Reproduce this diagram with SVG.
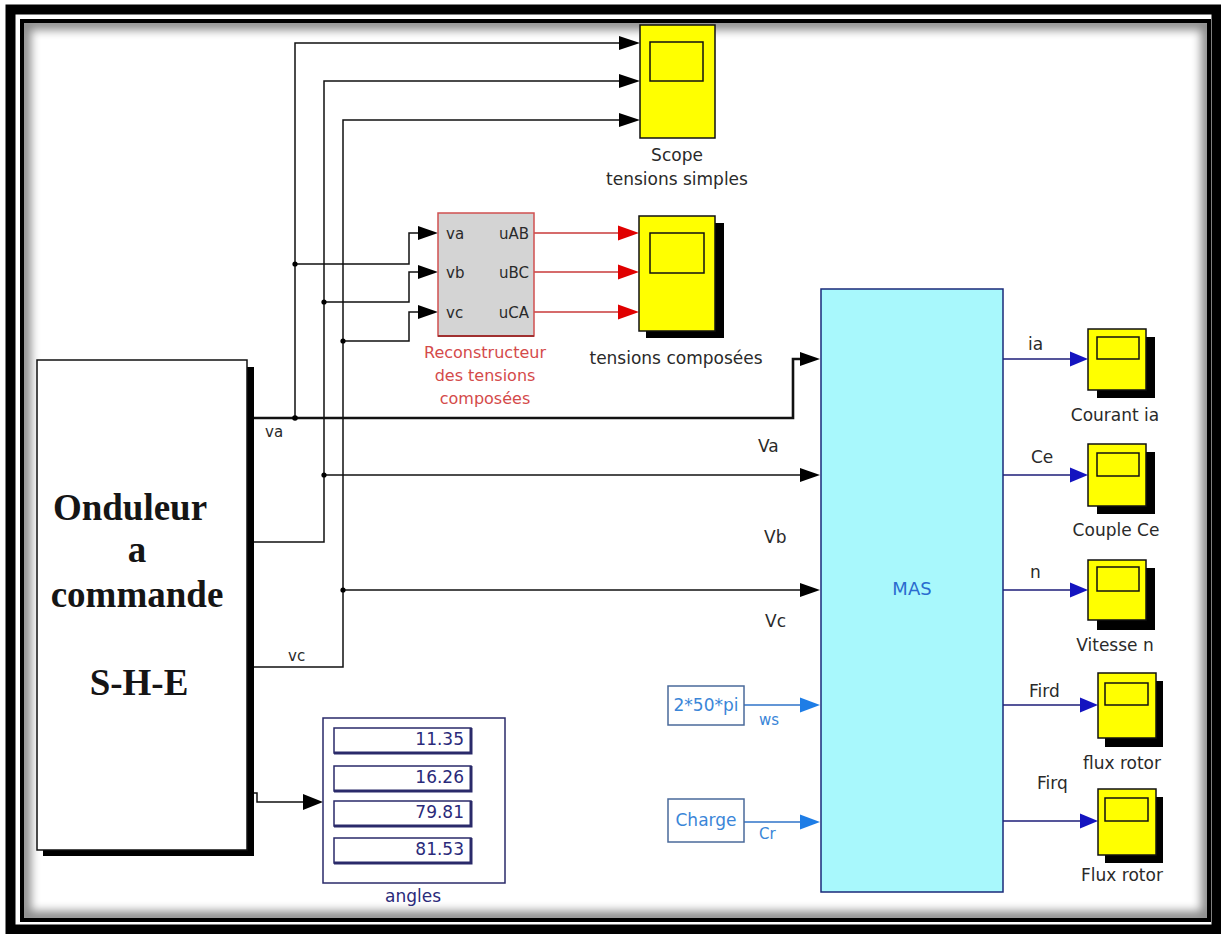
<svg xmlns="http://www.w3.org/2000/svg" width="1221" height="934" viewBox="0 0 1221 934">
<style>
.t{font-family:"DejaVu Sans",Verdana,sans-serif;font-size:17px;fill:#2a2a2a}
.sm{font-size:15px}
.mid{text-anchor:middle}
.end{text-anchor:end}
.ser{font-family:"Liberation Serif","Times New Roman",serif;font-weight:bold;font-size:37px;fill:#151515;text-anchor:middle}
.w{fill:none;stroke:#111;stroke-width:1.5}
.wb{fill:none;stroke:#111;stroke-width:2.6}
.ah{fill:#000}
.red{fill:none;stroke:#c83a3a;stroke-width:1.5}
.ahr{fill:#e00000}
.blu{fill:none;stroke:#2f73c8;stroke-width:1.5}
.ahb{fill:#1e7de6}
.nav{fill:none;stroke:#1c1c78;stroke-width:1.5}
.ahn{fill:#1414c0}
.scope{fill:#ffff00;stroke:#111;stroke-width:1.5}
.screen{fill:#ffff00;stroke:#111;stroke-width:1.5}
.shadow{fill:#000}
.dot{fill:#000}
.navtxt{fill:#2a2a7a}
.bluetxt{fill:#3a86d8}
.redtxt{fill:#d44a4a}
</style>
<defs>
<filter id="blur" x="-5%" y="-5%" width="110%" height="110%"><feGaussianBlur stdDeviation="5"/></filter>
<clipPath id="innerClip"><rect x="24" y="23" width="1184" height="895"/></clipPath>
</defs>
<rect x="0" y="0" width="1221" height="934" fill="#ffffff"/>
<g id="frame">
<g clip-path="url(#innerClip)"><rect x="24" y="23" width="1184" height="895" fill="none" stroke="#000" stroke-width="14" opacity="0.45" filter="url(#blur)"/></g>
<rect x="10.5" y="9.5" width="1206" height="920" fill="none" stroke="#000" stroke-width="10"/>
<rect x="22" y="21" width="1187" height="899" fill="none" stroke="#000" stroke-width="4"/>
</g>

<g id="connectors">
<!-- bus lines to scope tensions simples -->
<path class="w" d="M295,418 V43 H619"/>
<path class="w" d="M254,542 H324 V81 H619"/>
<path class="w" d="M254,667 H343 V120 H619"/>
<polygon class="ah" points="619,36 640,43 619,50"/>
<polygon class="ah" points="619,74 640,81 619,88"/>
<polygon class="ah" points="619,113 640,120 619,127"/>
<!-- reconstructor inputs -->
<path class="w" d="M295,264 H409 V233 H418"/>
<path class="w" d="M324,302 H409 V272 H418"/>
<path class="w" d="M343,341 H409 V312 H418"/>
<polygon class="ah" points="418,226 438,233 418,240"/>
<polygon class="ah" points="418,265 438,272 418,279"/>
<polygon class="ah" points="418,305 438,312 418,319"/>
<!-- red outputs -->
<path class="red" d="M534,233 H618"/>
<path class="red" d="M534,272 H618"/>
<path class="red" d="M534,312 H618"/>
<polygon class="ahr" points="618,225.5 639,233 618,240.5"/>
<polygon class="ahr" points="618,264.5 639,272 618,279.5"/>
<polygon class="ahr" points="618,304.5 639,312 618,319.5"/>
<!-- MAS inputs -->
<path class="wb" d="M254,418 H793 V359 H800"/>
<path class="w" d="M324,475 H800"/>
<path class="w" d="M343,590 H800"/>
<polygon class="ah" points="800,352 820,359 800,366"/>
<polygon class="ah" points="800,468 820,475 800,482"/>
<polygon class="ah" points="800,583 820,590 800,597"/>
<!-- angles -->
<path class="w" d="M254,793 H257 V802 H303"/>
<polygon class="ah" points="303,794 323,802 303,810"/>
<!-- blue inputs -->
<path class="blu" d="M744,705 H800"/>
<path class="blu" d="M744,822 H800"/>
<polygon class="ahb" points="800,697.5 820,705 800,712.5"/>
<polygon class="ahb" points="800,814.5 820,822 800,829.5"/>
<!-- outputs -->
<path class="nav" d="M1003,359 H1070"/>
<path class="nav" d="M1003,475 H1070"/>
<path class="nav" d="M1003,590 H1070"/>
<path class="nav" d="M1003,705 H1080"/>
<path class="nav" d="M1003,821 H1080"/>
<polygon class="ahn" points="1070,351.5 1088,359 1070,366.5"/>
<polygon class="ahn" points="1070,467.5 1088,475 1070,482.5"/>
<polygon class="ahn" points="1070,582.5 1088,590 1070,597.5"/>
<polygon class="ahn" points="1080,697.5 1098,705 1080,712.5"/>
<polygon class="ahn" points="1080,813.5 1098,821 1080,828.5"/>
<!-- junctions -->
<circle class="dot" cx="295" cy="264" r="2.6"/>
<circle class="dot" cx="295" cy="418" r="2.8"/>
<circle class="dot" cx="324" cy="302" r="2.6"/>
<circle class="dot" cx="324" cy="475" r="2.6"/>
<circle class="dot" cx="343" cy="341" r="2.6"/>
<circle class="dot" cx="343" cy="590" r="2.6"/>
<!-- signal labels -->
<text class="t sm" x="265" y="437">va</text>
<text class="t sm" x="288" y="661">vc</text>
<text class="t" x="758" y="452">Va</text>
<text class="t" x="764" y="543">Vb</text>
<text class="t" x="765" y="627">Vc</text>
<text class="t bluetxt sm" x="759" y="725">ws</text>
<text class="t bluetxt sm" x="759" y="839">Cr</text>
<text class="t" x="1028" y="350">ia</text>
<text class="t" x="1031" y="463">Ce</text>
<text class="t" x="1030" y="578">n</text>
<text class="t" x="1029" y="697">Fird</text>
<text class="t" x="1037" y="789">Firq</text>
</g>

<g id="onduleur">
<rect class="shadow" x="43" y="367" width="211" height="489"/>
<rect x="37" y="360" width="210" height="490" fill="#fff" stroke="#111" stroke-width="1.5"/>
<text class="ser" x="130" y="520">Onduleur</text>
<text class="ser" x="137" y="562">a</text>
<text class="ser" x="137" y="607">commande</text>
<text class="ser" x="139" y="695">S-H-E</text>
</g>

<g id="scope-simples">
<rect class="scope" x="640" y="25" width="75" height="113"/>
<rect class="screen" x="650" y="42" width="53" height="39"/>
<text class="t mid" x="677" y="161">Scope</text>
<text class="t mid" x="677" y="185">tensions simples</text>
</g>

<g id="reconstructeur">
<rect x="438" y="213" width="96" height="123" fill="#d4d4d4" stroke="#d05050" stroke-width="1.5"/>
<line x1="438" y1="336" x2="534" y2="336" stroke="#a03030" stroke-width="2"/>
<text class="t sm" x="446" y="239">va</text>
<text class="t sm" x="446" y="278">vb</text>
<text class="t sm" x="446" y="318">vc</text>
<text class="t sm end" x="529" y="239">uAB</text>
<text class="t sm end" x="529" y="278">uBC</text>
<text class="t sm end" x="529" y="318">uCA</text>
<text class="t mid redtxt" x="485" y="358" style="font-size:16px">Reconstructeur</text>
<text class="t mid redtxt" x="485" y="381" style="font-size:16px">des tensions</text>
<text class="t mid redtxt" x="485" y="404" style="font-size:16px">composées</text>
</g>

<g id="scope-composees">
<rect class="shadow" x="646" y="223" width="78" height="115"/>
<rect class="scope" x="639" y="216" width="76" height="115"/>
<rect class="screen" x="650" y="233" width="54" height="40"/>
<text class="t mid" x="676" y="364">tensions composées</text>
</g>

<g id="mas">
<rect x="821" y="289" width="182" height="603" fill="#a8f8fc" stroke="#1a2a7a" stroke-width="1.5"/>
<text class="t mid" x="912" y="595" style="fill:#2a6ccf;font-size:18px">MAS</text>
</g>

<g id="const-ws">
<rect x="668" y="686" width="76" height="39" fill="#fff" stroke="#4a6a9a" stroke-width="1.5"/>
<text class="t mid bluetxt" x="706" y="711">2*50*pi</text>
</g>

<g id="charge">
<rect x="668" y="799" width="76" height="43" fill="#fff" stroke="#4a6a9a" stroke-width="1.5"/>
<text class="t mid bluetxt" x="706" y="826">Charge</text>
</g>

<g id="angles">
<rect x="323" y="718" width="182" height="165" fill="#fff" stroke="#2a2a6a" stroke-width="1.5"/>
<rect x="334" y="728" width="137" height="25" fill="#fff" stroke="#2a2a6a" stroke-width="1.5"/>
<rect x="334" y="766" width="137" height="25" fill="#fff" stroke="#2a2a6a" stroke-width="1.5"/>
<rect x="334" y="801" width="137" height="25" fill="#fff" stroke="#2a2a6a" stroke-width="1.5"/>
<rect x="334" y="838" width="137" height="25" fill="#fff" stroke="#2a2a6a" stroke-width="1.5"/>
<path d="M334,753 H471 V728 M334,791 H471 V766 M334,826 H471 V801 M334,863 H471 V838" fill="none" stroke="#2a2a6a" stroke-width="3"/>
<text class="t end navtxt" x="464" y="745">11.35</text>
<text class="t end navtxt" x="464" y="783">16.26</text>
<text class="t end navtxt" x="464" y="818">79.81</text>
<text class="t end navtxt" x="464" y="855">81.53</text>
<text class="t mid navtxt" x="413" y="902">angles</text>
</g>

<g id="scope-ia">
<rect class="shadow" x="1097" y="337" width="58" height="61"/>
<rect class="scope" x="1088" y="329" width="58" height="61"/>
<rect class="screen" x="1097" y="337" width="42" height="22"/>
<text class="t mid" x="1115" y="421">Courant ia</text>
</g>
<g id="scope-ce">
<rect class="shadow" x="1097" y="452" width="58" height="62"/>
<rect class="scope" x="1088" y="444" width="58" height="62"/>
<rect class="screen" x="1097" y="453" width="42" height="23"/>
<text class="t mid" x="1116" y="536">Couple Ce</text>
</g>
<g id="scope-n">
<rect class="shadow" x="1097" y="568" width="58" height="62"/>
<rect class="scope" x="1088" y="560" width="58" height="60"/>
<rect class="screen" x="1097" y="567" width="42" height="24"/>
<text class="t mid" x="1115" y="651">Vitesse n</text>
</g>
<g id="scope-fird">
<rect class="shadow" x="1105" y="681" width="58" height="66"/>
<rect class="scope" x="1098" y="673" width="58" height="65"/>
<rect class="screen" x="1105" y="683" width="43" height="22"/>
<text class="t mid" x="1122" y="769">flux rotor</text>
</g>
<g id="scope-firq">
<rect class="shadow" x="1105" y="797" width="58" height="66"/>
<rect class="scope" x="1098" y="789" width="58" height="66"/>
<rect class="screen" x="1105" y="798" width="43" height="23"/>
<text class="t mid" x="1122" y="881">Flux rotor</text>
</g>
</svg>
